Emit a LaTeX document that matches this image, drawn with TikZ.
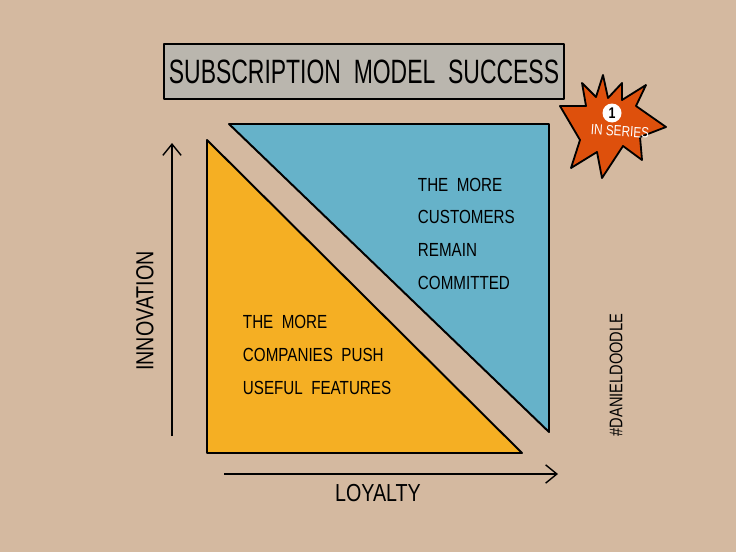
\documentclass[tikz,border=0pt]{standalone}
\usepackage{fontspec}
\usepackage{tikz}
\usetikzlibrary{arrows,arrows.meta}
\newfontfamily\handfont[FakeStretch=0.8]{Liberation Sans}
\newfontfamily\titlefont[FakeStretch=0.68]{Liberation Sans}
\definecolor{paper}{RGB}{212,185,160}
\definecolor{boxgrey}{RGB}{186,182,174}
\definecolor{teal}{RGB}{102,178,201}
\definecolor{mustard}{RGB}{245,175,35}
\definecolor{burst}{RGB}{222,80,12}

\begin{document}
\begin{tikzpicture}[x=0.025cm,y=-0.025cm,line join=round,
  tri/.style = {draw=black, line width=1.4pt},
  hand/.style = {font=\handfont\fontsize{13.5}{15}\selectfont, align=left, anchor=west},
  axis/.style = {-{Straight Barb[length=8pt,width=13pt]}, line width=1pt},
  axlabel/.style = {font=\handfont\fontsize{17.5}{19}\selectfont}]
  \useasboundingbox[fill=paper] (0,0) rectangle (736,552);

  % title
  \node (title) [draw=black, line width=1.3pt, fill=boxgrey, minimum width=396*0.025cm, minimum height=55*0.025cm, font=\titlefont\fontsize{24}{26}\selectfont] at (364,71.5) {SUBSCRIPTION\ \ MODEL\ \ SUCCESS};

  % the two triangles
  \draw[tri, fill=teal] (229,124) -- (549,124) -- (549,432) -- cycle;
  \draw[tri, fill=mustard] (207,140) -- (207,453) -- (522,453) -- cycle;

  \node (custA) [hand] at (413,185) {THE\ \ MORE};
  \node (custB) [hand] at (413,217) {CUSTOMERS};
  \node (custC) [hand] at (413,250) {REMAIN};
  \node (custD) [hand] at (413,283) {COMMITTED};

  \node (compA) [hand] at (238,322) {THE\ \ MORE};
  \node (compB) [hand] at (238,355) {COMPANIES\ \ PUSH};
  \node (compC) [hand] at (238,388) {USEFUL\ \ FEATURES};

  % axes
  \coordinate (ybot) at (172,436);
  \coordinate (ytop) at (172,143);
  \coordinate (xleft) at (224,474);
  \coordinate (xright) at (558,474);
  \draw[axis] (ybot) -- (ytop);
  \draw[axis] (xleft) -- (xright);
  \node (innovation) [axlabel, rotate=90] at (145,311) {INNOVATION};
  \node (loyalty) [axlabel] at (378,493) {LOYALTY};

  \node (tag) [font=\handfont\fontsize{13}{15}\selectfont, rotate=90] at (616,375) {\#DANIELDOODLE};

  % starburst
  \draw[fill=burst, line width=1.3pt] (603,75) -- (608,98) -- (622,83) -- (622,100) -- (646,85)
    -- (636,106) -- (666,127) -- (640,137) -- (642,160) -- (623,146) -- (602,178)
    -- (597,152) -- (571,168) -- (580,140) -- (560,106) -- (586,106) -- (582,83)
    -- (596,97) -- cycle;
  \node (one) [circle, fill=white, inner sep=0pt, minimum size=19*0.025cm, font=\handfont\bfseries\fontsize{11}{11}\selectfont] at (612,113) {1};
  \node (series) [text=white, rotate=-4, font=\handfont\fontsize{10.5}{11}\selectfont] at (620,131) {IN\ SERIES};
\end{tikzpicture}
\end{document}
